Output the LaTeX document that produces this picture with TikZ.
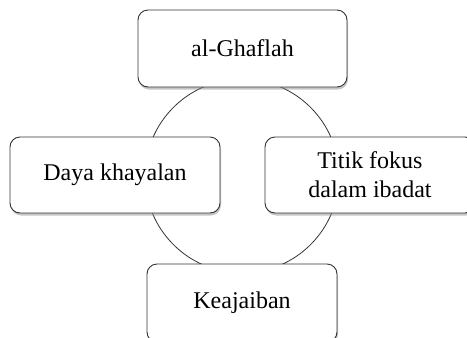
\documentclass[tikz,border=0pt]{standalone}
\usepackage{fontspec}
\setmainfont{Liberation Serif}
\usetikzlibrary{shadows}
\begin{document}
\begin{tikzpicture}[x=1pt,y=-1pt,
  box/.style={draw=black!80, line width=0.9pt, fill=white, rounded corners=10pt,
    align=center, inner sep=0pt, font=\fontsize{24}{29}\selectfont,
    drop shadow={shadow xshift=1pt, shadow yshift=-2.5pt, fill=black!45, opacity=0.5}},
  ring/.style={draw=black!80, line width=0.8pt}]
\useasboundingbox (0,0) rectangle (467,338);
\node[ring, circle, minimum size=194pt] (c) at (242,176) {};
\node[box, minimum width=209pt, minimum height=77pt] (top) at (242.5,48.5) {al-Ghaflah};
\node[box, minimum width=210pt, minimum height=76pt] (left) at (115,175) {Daya khayalan};
\node[box, minimum width=210pt, minimum height=76pt] (right) at (370,175) {Titik fokus\\dalam ibadat};
\node[box, minimum width=190pt, minimum height=78pt] (bot) at (242,303) {Keajaiban};
\end{tikzpicture}
\end{document}
